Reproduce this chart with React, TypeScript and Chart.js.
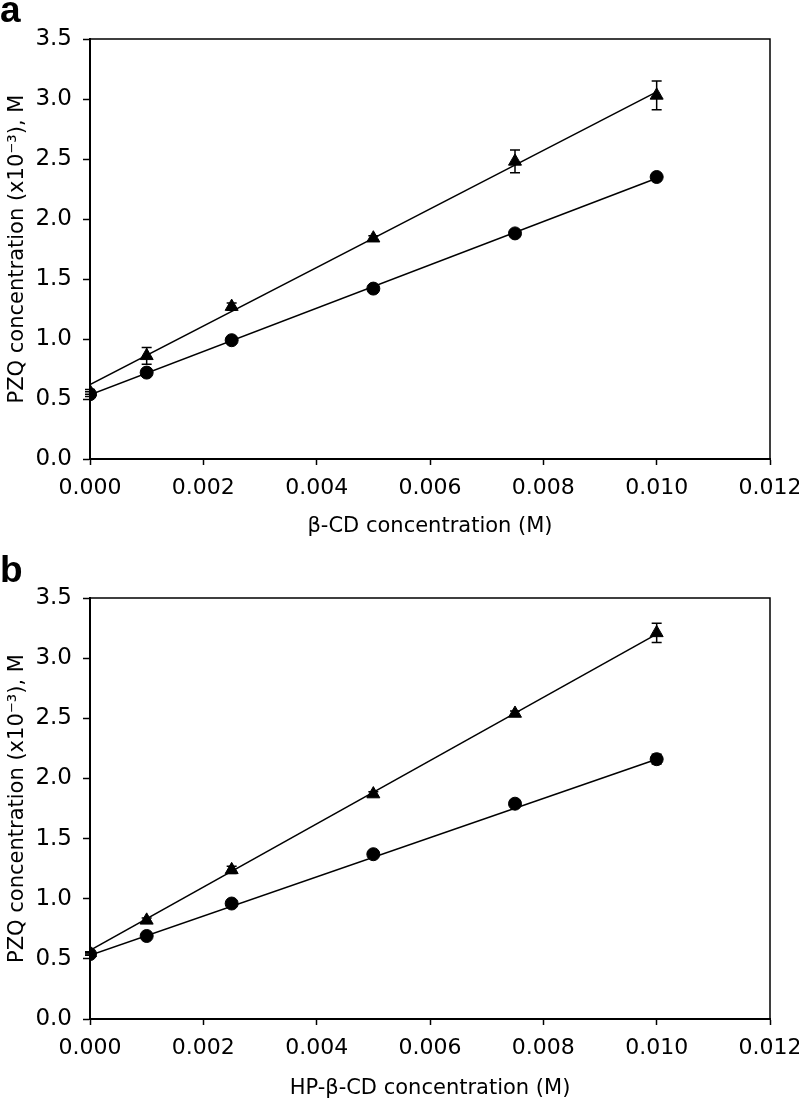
import React, { useEffect, useRef } from "react";
import { Chart, registerables } from "chart.js";

Chart.register(...registerables);

// ---- data ----
const xValues = [0, 0.001, 0.0025, 0.005, 0.0075, 0.01];
const fitX = [0, 0.01];

// Panel a (β-CD)
const aTriangle = [0.56, 0.86, 1.27, 1.84, 2.48, 3.03];
const aTriangleErr = [0.02, 0.07, 0.03, 0.02, 0.095, 0.12];
const aCircle = [0.54, 0.72, 0.99, 1.42, 1.88, 2.35];
const aCircleErr = [0.02, 0.01, 0.01, 0.01, 0.01, 0.03];
const aTriangleFit = [0.62, 3.06];
const aCircleFit = [0.535, 2.34];

// Panel b (HP-β-CD)
const bTriangle = [0.55, 0.82, 1.24, 1.87, 2.54, 3.21];
const bTriangleErr = [0.01, 0.02, 0.03, 0.02, 0.02, 0.08];
const bCircle = [0.54, 0.69, 0.96, 1.37, 1.79, 2.16];
const bCircleErr = [0.01, 0.01, 0.01, 0.01, 0.01, 0.04];
const bTriangleFit = [0.57, 3.2];
const bCircleFit = [0.53, 2.16];

const xTickStep = 0.002;
const yTickStep = 0.5;
const xMax = 0.012;
const yMax = 3.5;

const FONT = "'DejaVu Sans', sans-serif";

const toPoints = (xs: number[], ys: number[]) => xs.map((x, i) => ({ x, y: ys[i] }));

const errorBarPlugin = {
  id: "errorBars",
  afterDatasetsDraw(chart: any) {
    const ctx = chart.ctx;
    const xs = chart.scales.x;
    const ys = chart.scales.y;
    chart.data.datasets.forEach((ds: any) => {
      if (!ds.errors) return;
      ctx.save();
      ctx.strokeStyle = "#000";
      ctx.lineWidth = 1.5;
      ds.data.forEach((p: any, i: number) => {
        const e = ds.errors[i];
        const px = xs.getPixelForValue(p.x);
        const top = ys.getPixelForValue(p.y + e);
        const bot = ys.getPixelForValue(p.y - e);
        ctx.beginPath();
        ctx.moveTo(px, top);
        ctx.lineTo(px, bot);
        ctx.moveTo(px - 5, top);
        ctx.lineTo(px + 5, top);
        ctx.moveTo(px - 5, bot);
        ctx.lineTo(px + 5, bot);
        ctx.stroke();
      });
      ctx.restore();
    });
  },
};

const framePlugin = {
  id: "frame",
  beforeDatasetsDraw(chart: any) {
    const { ctx, chartArea } = chart;
    ctx.save();
    ctx.strokeStyle = "#000";
    ctx.lineWidth = 1.5;
    ctx.beginPath();
    ctx.moveTo(chartArea.left, chartArea.top);
    ctx.lineTo(chartArea.right, chartArea.top);
    ctx.lineTo(chartArea.right, chartArea.bottom);
    ctx.stroke();
    ctx.restore();
  },
};

const panelLabelPlugin = {
  id: "panelLabel",
  afterDraw(chart: any, _args: any, opts: any) {
    const ctx = chart.ctx;
    ctx.save();
    ctx.fillStyle = "#000";
    ctx.font = "bold 37px 'Liberation Sans', Arial, sans-serif";
    ctx.textBaseline = "alphabetic";
    ctx.textAlign = "left";
    ctx.fillText(opts.text, 0, opts.baseline);
    ctx.restore();
  },
};

type PanelProps = {
  label: string;
  labelBaseline: number;
  xTitle: string;
  tri: number[];
  triErr: number[];
  cir: number[];
  cirErr: number[];
  triFit: number[];
  cirFit: number[];
  height: number;
  padTop: number;
  xScaleHeight: number;
  xTitlePadBottom: number;
};

function Panel(props: PanelProps) {
  const ref = useRef<HTMLCanvasElement | null>(null);
  useEffect(() => {
    if (!ref.current) return;
    const chart = new Chart(ref.current, {
      type: "scatter",
      data: {
        datasets: [
          {
            label: "fit triangle",
            data: toPoints(fitX, props.triFit),
            showLine: true,
            borderColor: "#000",
            borderWidth: 1.5,
            pointRadius: 0,
          },
          {
            label: "fit circle",
            data: toPoints(fitX, props.cirFit),
            showLine: true,
            borderColor: "#000",
            borderWidth: 1.5,
            pointRadius: 0,
          },
          {
            label: "triangle",
            data: toPoints(xValues, props.tri),
            pointStyle: "triangle",
            pointRadius: 7.5,
            backgroundColor: "#000",
            borderColor: "#000",
            borderWidth: 1,
            errors: props.triErr,
          } as any,
          {
            label: "circle",
            data: toPoints(xValues, props.cir),
            pointStyle: "circle",
            pointRadius: 6.5,
            backgroundColor: "#000",
            borderColor: "#000",
            borderWidth: 1,
            errors: props.cirErr,
          } as any,
        ],
      },
      options: {
        animation: false,
        responsive: false,
        layout: { padding: { top: props.padTop, right: 29, left: 0, bottom: 0 } },
        plugins: {
          legend: { display: false },
          tooltip: { enabled: false },
          panelLabel: { text: props.label, baseline: props.labelBaseline },
        } as any,
        scales: {
          x: {
            type: "linear",
            min: 0,
            max: xMax,
            afterFit: (s: any) => {
              s.height = props.xScaleHeight;
              s.paddingLeft = 0;
              s.paddingRight = 0;
            },
            ticks: {
              stepSize: xTickStep,
              color: "#000",
              font: { family: FONT, size: 22 },
              padding: 10,
              maxRotation: 0,
              callback: (v: any) => Number(v).toFixed(3),
            },
            grid: {
              drawOnChartArea: false,
              drawTicks: true,
              tickLength: 6,
              tickColor: "#000",
              tickWidth: 1.5,
            },
            border: { color: "#000", width: 2 },
            title: {
              display: true,
              text: props.xTitle,
              color: "#000",
              font: { family: FONT, size: 21 },
              padding: { top: 0, bottom: props.xTitlePadBottom },
            },
          },
          y: {
            type: "linear",
            min: 0,
            max: yMax,
            afterFit: (s: any) => {
              s.width = 90;
              s.paddingTop = 0;
              s.paddingBottom = 0;
            },
            ticks: {
              stepSize: yTickStep,
              color: "#000",
              font: { family: FONT, size: 23 },
              padding: 11,
              callback: (v: any) => Number(v).toFixed(1),
            },
            grid: {
              drawOnChartArea: false,
              drawTicks: true,
              tickLength: 7,
              tickColor: "#000",
              tickWidth: 1.5,
            },
            border: { color: "#000", width: 2 },
            title: {
              display: true,
              text: "PZQ concentration (x10\u207B\u00B3), M",
              color: "#000",
              font: { family: FONT, size: 21 },
              padding: { top: 5, bottom: 0 },
            },
          },
        },
      },
      plugins: [errorBarPlugin, framePlugin, panelLabelPlugin],
    } as any);
    return () => chart.destroy();
  }, []);
  return (
    <canvas
      ref={ref}
      width={799}
      height={props.height}
      style={{ display: "block", width: 799, height: props.height }}
    />
  );
}

export default function App() {
  return (
    <div style={{ position: "absolute", left: 0, top: 0, width: 799, height: 1103, background: "#fff" }}>
      <Panel
        label="a"
        labelBaseline={22}
        xTitle={"\u03B2-CD concentration (M)"}
        tri={aTriangle}
        triErr={aTriangleErr}
        cir={aCircle}
        cirErr={aCircleErr}
        triFit={aTriangleFit}
        cirFit={aCircleFit}
        height={551}
        padTop={39}
        xScaleHeight={92}
        xTitlePadBottom={12}
      />
      <Panel
        label="b"
        labelBaseline={31}
        xTitle={"HP-\u03B2-CD concentration (M)"}
        tri={bTriangle}
        triErr={bTriangleErr}
        cir={bCircle}
        cirErr={bCircleErr}
        triFit={bTriangleFit}
        cirFit={bCircleFit}
        height={552}
        padTop={47}
        xScaleHeight={84}
        xTitlePadBottom={2}
      />
    </div>
  );
}
